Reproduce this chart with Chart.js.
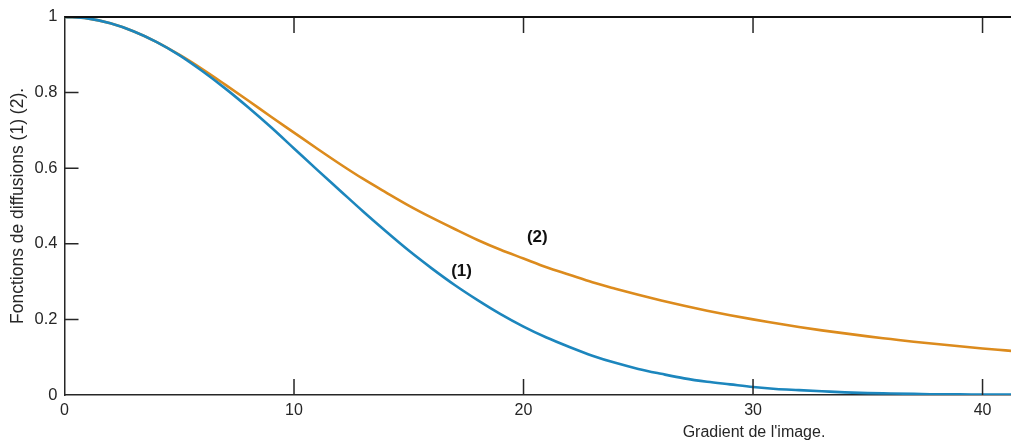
<!DOCTYPE html>
<html>
<head>
<meta charset="utf-8">
<script src="https://cdn.jsdelivr.net/npm/chart.js@4.4.1/dist/chart.umd.min.js"></script>
<style>
  html, body { margin: 0; padding: 0; background: #fff; }
  #wrap { width: 1011px; height: 446px; }
</style>
</head>
<body>
<div id="wrap"><canvas id="diffChart"></canvas></div>
<script>
// Gradient magnitude (x axis)
const gradient = [0, 1, 2, 3, 4, 5, 6, 7, 8, 9, 10, 11, 12, 13, 14, 15, 16, 17, 18, 19, 20,
  21, 22, 23, 24, 25, 26, 27, 28, 29, 30, 31, 32, 33, 34, 35, 36, 37, 38, 39, 40, 41, 42];

// (1) exponential diffusion function
const diffusion1 = [1.000, 0.996, 0.983, 0.962, 0.934, 0.899, 0.857, 0.811, 0.761, 0.708, 0.652,
  0.596, 0.541, 0.486, 0.433, 0.382, 0.335, 0.291, 0.251, 0.214, 0.181,
  0.152, 0.127, 0.104, 0.085, 0.069, 0.056, 0.044, 0.035, 0.028, 0.021,
  0.016, 0.013, 0.010, 0.007, 0.005, 0.004, 0.003, 0.002, 0.002, 0.001, 0.001, 0.001];

// (2) rational diffusion function
const diffusion2 = [1.000, 0.996, 0.983, 0.962, 0.934, 0.900, 0.862, 0.821, 0.779, 0.736, 0.694,
  0.652, 0.611, 0.572, 0.536, 0.501, 0.469, 0.439, 0.410, 0.384, 0.361,
  0.338, 0.318, 0.298, 0.281, 0.265, 0.250, 0.236, 0.223, 0.211, 0.200,
  0.190, 0.180, 0.171, 0.163, 0.155, 0.148, 0.141, 0.135, 0.129, 0.123, 0.118, 0.113];

const xTicks = [0, 10, 20, 30, 40];
const yTicks = [0, 0.2, 0.4, 0.6, 0.8, 1];

const curveLabels = [
  { text: '(1)', x: 17.3, y: 0.328 },
  { text: '(2)', x: 20.6, y: 0.417 },
];

const FONT = 'Liberation Sans, Arial, sans-serif';
const NARROW = 'Liberation Sans Narrow, Arial Narrow, Liberation Sans, sans-serif';
const INK = '#262626';

// inward ticks, top border, curve tags and the x title
const framePlugin = {
  id: 'frame',
  afterDraw(chart) {
    const { ctx, chartArea: a, scales: { x, y } } = chart;
    ctx.save();
    ctx.strokeStyle = INK;
    ctx.lineWidth = 1.5;
    ctx.beginPath();
    xTicks.forEach(v => {
      if (v === 0) return;
      const px = x.getPixelForValue(v);
      ctx.moveTo(px, a.bottom);
      ctx.lineTo(px, a.bottom - 16);
      ctx.moveTo(px, a.top);
      ctx.lineTo(px, a.top + 16);
    });
    yTicks.forEach(v => {
      if (v === 0 || v === 1) return;
      const py = y.getPixelForValue(v);
      ctx.moveTo(a.left, py);
      ctx.lineTo(a.left + 14, py);
    });
    ctx.stroke();

    ctx.strokeStyle = '#111';
    ctx.lineWidth = 2;
    ctx.beginPath();
    ctx.moveTo(a.left, a.top);
    ctx.lineTo(a.right, a.top);
    ctx.stroke();

    ctx.fillStyle = '#111';
    ctx.font = 'bold 17px ' + FONT;
    ctx.textAlign = 'center';
    ctx.textBaseline = 'middle';
    curveLabels.forEach(l => {
      ctx.fillText(l.text, x.getPixelForValue(l.x), y.getPixelForValue(l.y));
    });

    ctx.fillStyle = INK;
    ctx.font = '16px ' + FONT;
    ctx.fillText('Gradient de l\'image.', 754, 433);
    ctx.restore();
  }
};

new Chart(document.getElementById('diffChart'), {
  type: 'line',
  data: {
    labels: gradient,
    datasets: [
      {
        label: '(1)',
        data: gradient.map((g, i) => ({ x: g, y: diffusion1[i] })),
        borderColor: '#1c86bd',
        borderWidth: 2.6,
        pointRadius: 0,
        cubicInterpolationMode: 'monotone',
      },
      {
        label: '(2)',
        data: gradient.map((g, i) => ({ x: g, y: diffusion2[i] })),
        borderColor: '#dc8b1d',
        borderWidth: 2.6,
        pointRadius: 0,
        cubicInterpolationMode: 'monotone',
      }
    ]
  },
  options: {
    responsive: true,
    maintainAspectRatio: false,
    animation: false,
    layout: { padding: { top: 14, right: 0, left: 0, bottom: 0 } },
    scales: {
      x: {
        type: 'linear',
        min: 0,
        max: 41.24,
        afterFit: s => { s.height = 51; },
        afterBuildTicks: s => { s.ticks = xTicks.map(v => ({ value: v })); },
        ticks: { color: INK, font: { family: NARROW, size: 16 }, padding: 6, maxRotation: 0 },
        grid: { display: true, drawOnChartArea: false, drawTicks: false },
        border: { color: INK, width: 1.5 },
      },
      y: {
        min: 0,
        max: 1,
        afterFit: s => { s.width = 64.5; },
        afterBuildTicks: s => { s.ticks = yTicks.map(v => ({ value: v })); },
        ticks: {
          color: INK,
          font: { family: NARROW, size: 16.5 },
          padding: 7,
          callback: v => (v === 0 || v === 1) ? String(v) : v.toFixed(1),
        },
        grid: { display: true, drawOnChartArea: false, drawTicks: false },
        border: { color: INK, width: 1.5 },
        title: {
          display: true,
          text: 'Fonctions de diffusions (1) (2).',
          color: INK,
          font: { family: FONT, size: 17.5 },
          padding: { top: 8, bottom: 0 },
        },
      }
    },
    plugins: {
      legend: { display: false },
      tooltip: { enabled: false },
    }
  },
  plugins: [framePlugin]
});
</script>
</body>
</html>
